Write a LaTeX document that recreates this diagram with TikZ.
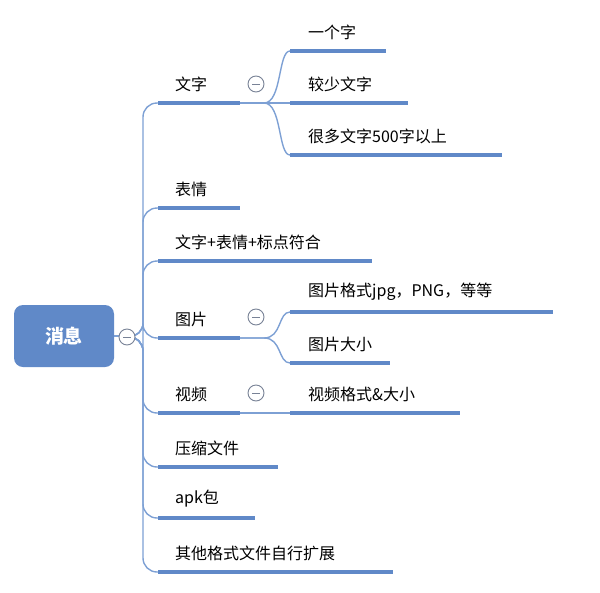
\documentclass[tikz,border=0pt]{standalone}
\usepackage{fontspec}
\setmainfont{Noto Sans CJK SC}
\definecolor{mblue}{RGB}{96,137,200}
\definecolor{lblue}{RGB}{125,160,212}
\definecolor{cgray}{RGB}{120,130,150}
\tikzset{
  topic/.style={anchor=south west,inner sep=0pt,font=\fontsize{16}{16}\selectfont},
  uline/.style={mblue,line width=3.5pt},
  conn/.style={lblue,line width=1.4pt},
  fold/.style={circle,draw=cgray,fill=white,line width=0.9pt,minimum size=16pt,inner sep=0pt,
    path picture={\draw[cgray,line width=0.9pt] ([xshift=-4pt]path picture bounding box.center) -- ([xshift=4pt]path picture bounding box.center);}}
}
\begin{document}
\begin{tikzpicture}[x=1pt,y=-1pt]
\useasboundingbox (0,0) rectangle (600,592);
% root
\node[fill=mblue,rounded corners=9pt,minimum width=100pt,minimum height=62pt,text=white,
  font=\fontsize{19}{19}\selectfont\bfseries] (root) at (64,336) {消息};
\coordinate (hub) at (143,337);
% main branches: name / y of line / end x / text
\foreach \n/\y/\e/\t in {wz/103/240/文字, bq/208/240/表情, mix/261/372/文字+表情+标点符合,
  tp/338/240/图片, sp/413/240/视频, ys/467/278/压缩文件, apk/518/255/apk包,
  qt/572/393/其他格式文件自行扩展}{
  \coordinate (\n s) at (158,\y);
  \coordinate (\n e) at (\e,\y);
  \node[topic] (\n) at (175,\y-11) {\t};
  \draw[conn,rounded corners=14pt] (root.east) -- (hub) |- (\n s);
  \draw[uline] (\n s) -- (\n e);
}
\node[fold] (fr) at (127,337) {};
% sub branches
\foreach \p/\n/\y/\e/\t in {wz/a1/51/386/一个字, wz/a2/103/408/较少文字, wz/a3/155/502/很多文字500字以上,
  tp/b1/312/553/图片格式jpg，PNG，等等, tp/b2/363/390/图片大小, sp/c1/413/460/视频格式\&大小}{
  \coordinate (\n s) at (290,\y);
  \coordinate (\n e) at (\e,\y);
  \node[topic] (\n) at (308,\y-11) {\t};
  \draw[conn] (\p e) -- ++(24,0) .. controls +(18,0) and +(-12,0) .. (\n s);
  \draw[uline] (\n s) -- (\n e);
}
\node[fold] (f1) at (256,84) {};
\node[fold] (f2) at (256,317) {};
\node[fold] (f3) at (256,393) {};
\end{tikzpicture}
\end{document}
